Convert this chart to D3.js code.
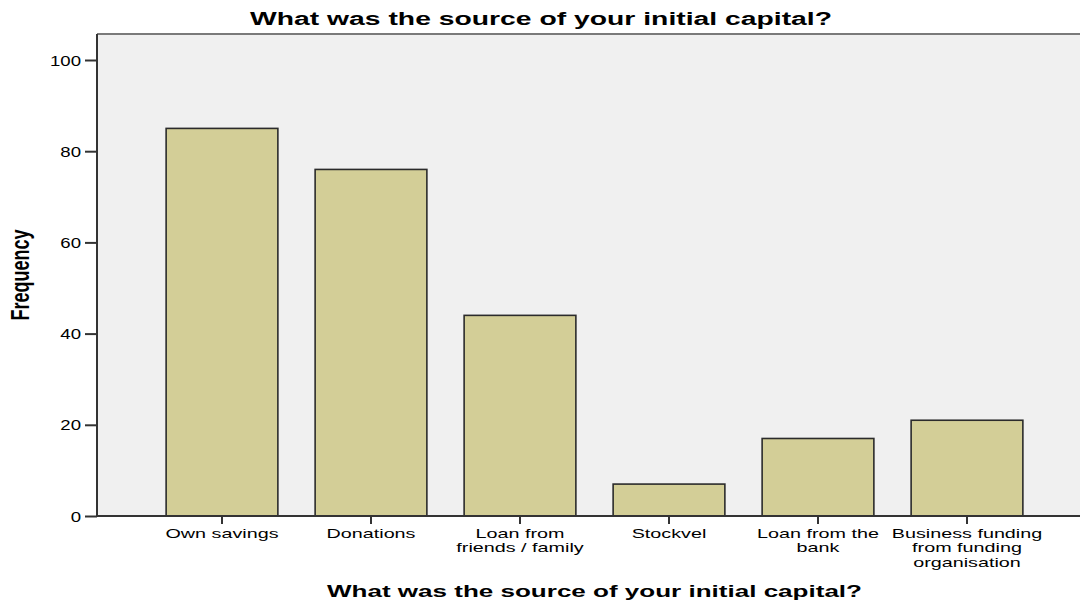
<!DOCTYPE html>
<html>
<head>
<meta charset="utf-8">
<script src="https://cdn.jsdelivr.net/npm/d3@7"></script>
<style>
  body { margin: 0; background: #fff; }
  text { font-family: "Liberation Sans", Arial, sans-serif; fill: #000; }
</style>
</head>
<body>
<script>
// data
var categories = ["Own savings", "Donations", "Loan from friends / family", "Stockvel", "Loan from the bank", "Business funding from funding organisation"];
var categoryLines = [["Own savings"], ["Donations"], ["Loan from", "friends / family"], ["Stockvel"], ["Loan from the", "bank"], ["Business funding", "from funding", "organisation"]];
var frequencies = [85, 76, 44, 7, 17, 21];
var yTicks = [0, 20, 40, 60, 80, 100];

var width = 1080, height = 603;
var sx = 1.33;    // the picture is stretched sideways, text too
var sxTick = 1.52;

var svg = d3.select("body")
			.append("svg")
			.attr("width", width)
			.attr("height", height);

var plotLeft = 97, plotTop = 34, plotBottom = 516, plotRight = 1090;

var x = d3.scaleBand()
			.domain(categories)
			.range([147.5, 1041.5])
			.paddingInner(0.25)
			.paddingOuter(0.125);

var y = d3.scaleLinear()
			.domain([0, 100])
			.range([plotBottom, 60]);

// plot background
svg.append("rect")
	.attr("x", plotLeft)
	.attr("y", plotTop)
	.attr("width", plotRight - plotLeft)
	.attr("height", plotBottom - plotTop)
	.attr("fill", "#f0f0f0");

svg.append("line")
	.attr("x1", plotLeft).attr("x2", plotRight)
	.attr("y1", plotTop).attr("y2", plotTop)
	.attr("stroke", "#7a7a7a")
	.attr("stroke-width", 2);

// bars
svg.selectAll("rect.bar")
	.data(frequencies)
	.enter()
	.append("rect")
	.attr("class", "bar")
	.attr("x", function(d, i){ return x(categories[i]); })
	.attr("y", function(d){ return y(d); })
	.attr("width", x.bandwidth())
	.attr("height", function(d){ return y(0) - y(d); })
	.attr("fill", "#d3ce97")
	.attr("stroke", "#2b2b2b")
	.attr("stroke-width", 1.6);

// y axis
var yAxis = svg.append("g")
				.attr("transform", "translate(" + plotLeft + ",0)")
				.call(d3.axisLeft(y).tickValues(yTicks).tickSize(12).tickPadding(0).tickSizeOuter(0));
yAxis.select(".domain").remove();
yAxis.append("line")
	.attr("x1", 0).attr("x2", 0)
	.attr("y1", plotTop).attr("y2", plotBottom)
	.attr("stroke", "#333")
	.attr("stroke-width", 2);
yAxis.selectAll(".tick line").attr("stroke", "#333").attr("stroke-width", 2);
yAxis.selectAll(".tick text")
	.attr("font-size", 14)
	.attr("font-family", "Liberation Sans, Arial, sans-serif")
	.attr("fill", "#222")
	.attr("dy", "0.36em")
	.attr("transform", "scale(" + sx + ",1)");

// x axis
var xAxis = svg.append("g")
				.attr("transform", "translate(0," + plotBottom + ")")
				.call(d3.axisBottom(x).tickSize(8).tickSizeOuter(0));
xAxis.select(".domain").remove();
xAxis.append("line")
	.attr("x1", plotLeft).attr("x2", plotRight)
	.attr("y1", 0).attr("y2", 0)
	.attr("stroke", "#333")
	.attr("stroke-width", 2);
xAxis.selectAll(".tick line").attr("stroke", "#333").attr("stroke-width", 2);
xAxis.selectAll(".tick text").remove();
xAxis.selectAll(".tick").each(function(d, i){
	var t = d3.select(this).append("text")
				.attr("text-anchor", "middle")
				.attr("font-size", 13)
				.attr("fill", "#222")
				.attr("transform", "translate(0,21.5) scale(" + sxTick + ",1)");
	categoryLines[i].forEach(function(line, k){
		t.append("tspan")
			.attr("x", 0)
			.attr("y", k * 14.6)
			.text(line);
	});
});

// titles
svg.append("text")
	.attr("x", 541)
	.attr("y", 25)
	.attr("text-anchor", "middle")
	.attr("font-family", "DejaVu Sans, Verdana, sans-serif")
	.attr("font-size", 18)
	.attr("font-weight", "bold")
	.attr("textLength", 582)
	.attr("lengthAdjust", "spacingAndGlyphs")
	.text("What was the source of your initial capital?");

svg.append("text")
	.attr("x", 594.5)
	.attr("y", 597)
	.attr("text-anchor", "middle")
	.attr("font-family", "DejaVu Sans, Verdana, sans-serif")
	.attr("font-size", 17)
	.attr("font-weight", "bold")
	.attr("textLength", 535)
	.attr("lengthAdjust", "spacingAndGlyphs")
	.text("What was the source of your initial capital?");

svg.append("text")
	.attr("text-anchor", "middle")
	.attr("font-size", 18)
	.attr("font-weight", "bold")
	.attr("transform", "translate(29,275) scale(1.45,1) rotate(-90)")
	.text("Frequency");
</script>
</body>
</html>
